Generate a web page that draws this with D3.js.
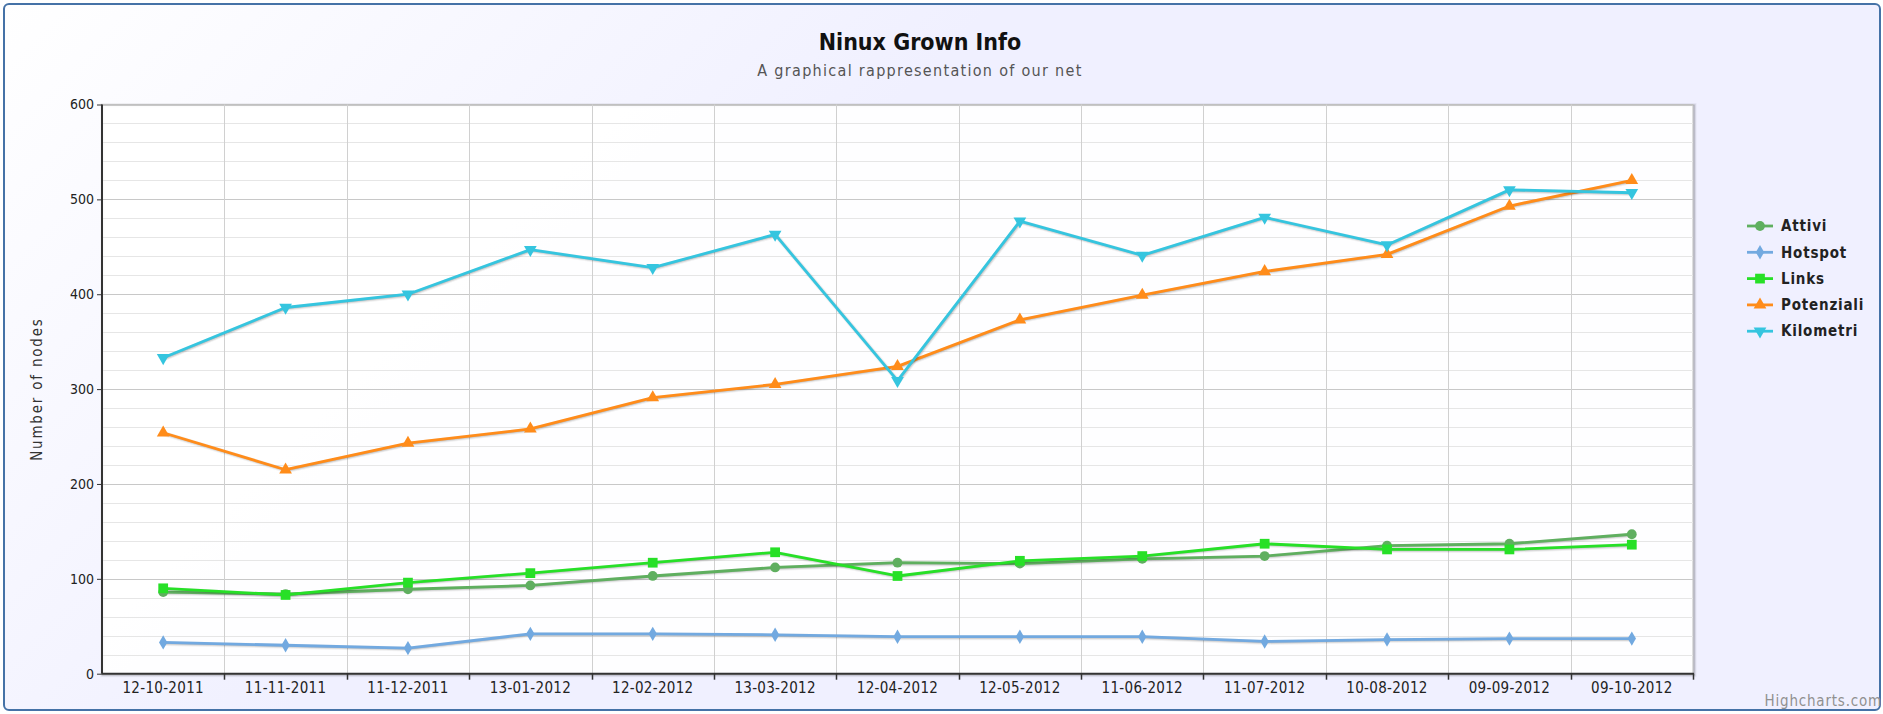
<!DOCTYPE html>
<html>
<head>
<meta charset="utf-8">
<script src="https://cdn.jsdelivr.net/npm/d3@7"></script>
<style>
  html, body { margin: 0; padding: 0; background: #fff; }
  svg { display: block; font-family: "DejaVu Sans Condensed", "DejaVu Sans", sans-serif; }
</style>
</head>
<body>
<div id="chart"></div>
<script>
var categories = ['12-10-2011', '11-11-2011', '11-12-2011', '13-01-2012', '12-02-2012', '13-03-2012',
                  '12-04-2012', '12-05-2012', '11-06-2012', '11-07-2012', '10-08-2012', '09-09-2012', '09-10-2012'];

var attivi     = [86, 84, 89, 93, 103, 112, 117, 116, 121, 124, 135, 137, 147];
var hotspot    = [33, 30, 27, 42, 42, 41, 39, 39, 39, 34, 36, 37, 37];
var links      = [90, 83, 96, 106, 117, 128, 103, 119, 124, 137, 131, 131, 136];
var potenziali = [254, 215, 243, 258, 291, 305, 324, 373, 399, 424, 442, 493, 520];
var kilometri  = [333, 386, 400, 447, 428, 463, 309, 477, 441, 481, 452, 510, 507];

var seriesNames = ['Attivi', 'Hotspot', 'Links', 'Potenziali', 'Kilometri'];
var yTicks = [0, 100, 200, 300, 400, 500, 600];

var W = 1883, H = 714;
var plot = { left: 102, top: 104.5, right: 1693, bottom: 673.7 };
var FONT = '"DejaVu Sans Condensed", "DejaVu Sans", sans-serif';

var series = [
  { name: seriesNames[0], data: attivi,     color: '#5FAF5F', symbol: d3.symbolCircle,   size: 75,  rot: 0 },
  { name: seriesNames[1], data: hotspot,    color: '#72A9E0', symbol: d3.symbolDiamond,  size: 60,  rot: 0 },
  { name: seriesNames[2], data: links,      color: '#27E027', symbol: d3.symbolSquare,   size: 95,  rot: 0 },
  { name: seriesNames[3], data: potenziali, color: '#FF8C1A', symbol: d3.symbolTriangle, size: 70,  rot: 0 },
  { name: seriesNames[4], data: kilometri,  color: '#35C5DF', symbol: d3.symbolTriangle, size: 70,  rot: 180 }
];

var svg = d3.select('#chart').append('svg')
    .attr('width', W)
    .attr('height', H);

var defs = svg.append('defs');

let bg = defs.append('linearGradient')
    .attr('id', 'bg')
    .attr('gradientUnits', 'userSpaceOnUse')
    .attr('x1', 0).attr('y1', 0).attr('x2', 500).attr('y2', 500);
bg.append('stop').attr('offset', 0).attr('stop-color', 'rgb(255,255,255)');
bg.append('stop').attr('offset', 1).attr('stop-color', 'rgb(240,240,255)');

// chart box
svg.append('rect')
    .attr('x', 4).attr('y', 4)
    .attr('width', W - 7).attr('height', H - 8)
    .attr('rx', 5)
    .attr('fill', 'url(#bg)')
    .attr('stroke', '#4572A7')
    .attr('stroke-width', 2);

// titles
svg.append('text')
    .attr('x', 920).attr('y', 50)
    .attr('text-anchor', 'middle')
    .attr('font-size', '23px')
    .attr('font-weight', 'bold')
    .attr('fill', '#111')
    .text('Ninux Grown Info');

svg.append('text')
    .attr('x', 920).attr('y', 76)
    .attr('text-anchor', 'middle')
    .attr('font-size', '16px')
    .attr('letter-spacing', '1.3px')
    .attr('fill', '#555')
    .text('A graphical rappresentation of our net');

var x = d3.scaleBand()
    .domain(categories)
    .range([plot.left, plot.right]);

var y = d3.scaleLinear()
    .domain([0, 600])
    .range([plot.bottom, plot.top]);

// plot shadow + background
{
  let pw = plot.right - plot.left, ph = plot.bottom - plot.top;
  [[5, 0.05], [3, 0.1], [1, 0.15]].forEach((s) => {
    svg.append('rect')
      .attr('x', plot.left + 1).attr('y', plot.top + 1)
      .attr('width', pw).attr('height', ph)
      .attr('fill', 'none')
      .attr('stroke', '#000')
      .attr('stroke-opacity', s[1])
      .attr('stroke-width', s[0]);
  });
  svg.append('rect')
    .attr('x', plot.left).attr('y', plot.top)
    .attr('width', pw).attr('height', ph)
    .attr('fill', 'rgba(255,255,255,0.92)')
    .attr('stroke', '#C0C0C0')
    .attr('stroke-width', 1);
}

// grid
var grid = svg.append('g');

grid.selectAll('.minor')
  .data(d3.range(0, 601, 20).filter((v) => v % 100 !== 0))
  .enter().append('line')
    .attr('x1', plot.left).attr('x2', plot.right)
    .attr('y1', (d) => Math.round(y(d)) + 0.5)
    .attr('y2', (d) => Math.round(y(d)) + 0.5)
    .attr('stroke', '#E6E6E6');

grid.selectAll('.major')
  .data(yTicks)
  .enter().append('line')
    .attr('x1', plot.left).attr('x2', plot.right)
    .attr('y1', (d) => Math.round(y(d)) + 0.5)
    .attr('y2', (d) => Math.round(y(d)) + 0.5)
    .attr('stroke', '#C8C8C8');

grid.selectAll('.vgrid')
  .data(categories.slice(1))
  .enter().append('line')
    .attr('x1', (d) => Math.round(x(d)) + 0.5)
    .attr('x2', (d) => Math.round(x(d)) + 0.5)
    .attr('y1', plot.top).attr('y2', plot.bottom)
    .attr('stroke', '#D0D0D0');

// axes
var yAxis = svg.append('g')
    .attr('transform', `translate(${ plot.left }, 0)`)
    .call(d3.axisLeft(y).tickValues(yTicks).tickSize(5).tickPadding(3));

yAxis.select('.domain').attr('stroke', '#333').attr('stroke-width', 2).attr('d', `M0,${ plot.top }V${ plot.bottom }`);
yAxis.selectAll('.tick line').attr('stroke', '#333');
yAxis.selectAll('.tick text')
    .attr('font-size', '14px')
    .attr('font-family', FONT)
    .attr('fill', '#222');

var xAxis = svg.append('g')
    .attr('transform', `translate(0, ${ plot.bottom })`)
    .call(d3.axisBottom(x).tickSize(0).tickPadding(9));

xAxis.select('.domain').attr('stroke', '#333').attr('stroke-width', 2).attr('d', `M${ plot.left },0H${ plot.right + 1 }`);
xAxis.selectAll('.tick text')
    .attr('font-size', '15px')
    .attr('letter-spacing', '0.3px')
    .attr('font-family', FONT)
    .attr('fill', '#222');

xAxis.selectAll('.bound')
  .data(categories.slice(1).map((c) => x(c)).concat([plot.right]))
  .enter().append('line')
    .attr('x1', (d) => Math.round(d) + 0.5)
    .attr('x2', (d) => Math.round(d) + 0.5)
    .attr('y1', 0).attr('y2', 6)
    .attr('stroke', '#333')
    .attr('stroke-width', 1.5);

svg.append('text')
    .attr('transform', `translate(42, ${ (plot.top + plot.bottom) / 2 }) rotate(-90)`)
    .attr('text-anchor', 'middle')
    .attr('font-size', '15px')
    .attr('letter-spacing', '1.8px')
    .attr('fill', '#333')
    .text('Number of nodes');

// series
var line = d3.line()
    .x((d, i) => x(categories[i]) + x.bandwidth() / 2)
    .y((d) => y(d));

var marker = (s) => d3.symbol().type(s.symbol).size(s.size)();

series.forEach((s) => {
  let g = svg.append('g');

  [[5, 0.05], [3, 0.1], [1, 0.15]].forEach((sh) => {
    g.append('path')
      .attr('d', line(s.data))
      .attr('transform', 'translate(1,1)')
      .attr('fill', 'none')
      .attr('stroke', '#000')
      .attr('stroke-opacity', sh[1])
      .attr('stroke-width', sh[0]);
  });

  g.append('path')
    .attr('d', line(s.data))
    .attr('fill', 'none')
    .attr('stroke', s.color)
    .attr('stroke-width', 2.8)
    .attr('stroke-linejoin', 'round');

  g.selectAll('.pt')
    .data(s.data)
    .enter().append('path')
      .attr('d', marker(s))
      .attr('fill', s.color)
      .attr('transform', (d, i) => `translate(${ x(categories[i]) + x.bandwidth() / 2 }, ${ y(d) }) rotate(${ s.rot })`);
});

// legend
var legend = svg.append('g')
    .attr('transform', 'translate(1747, 226)');

var item = legend.selectAll('.item')
  .data(series)
  .enter().append('g')
    .attr('transform', (d, i) => `translate(0, ${ i * 26.3 })`);

item.append('line')
    .attr('x1', 0).attr('x2', 26)
    .attr('stroke', (d) => d.color)
    .attr('stroke-width', 2.8);

item.append('path')
    .attr('d', (d) => marker(d))
    .attr('fill', (d) => d.color)
    .attr('transform', (d) => `translate(13, 0) rotate(${ d.rot })`);

item.append('text')
    .attr('x', 34).attr('dy', '0.35em')
    .attr('font-size', '15px')
    .attr('font-weight', 'bold')
    .attr('letter-spacing', '0.8px')
    .attr('fill', '#222')
    .text((d) => d.name);

// credits
svg.append('text')
    .attr('x', 1882).attr('y', 706)
    .attr('text-anchor', 'end')
    .attr('font-size', '15px')
    .attr('letter-spacing', '0.8px')
    .attr('fill', '#909090')
    .text('Highcharts.com');
</script>
</body>
</html>
